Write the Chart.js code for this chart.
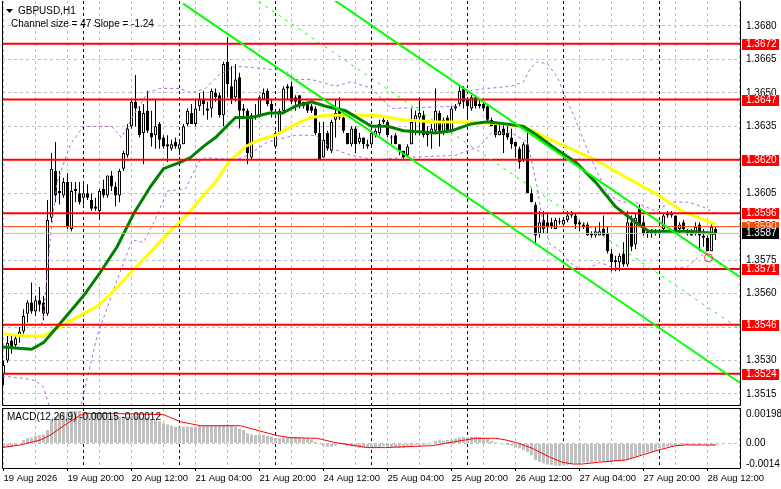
<!DOCTYPE html>
<html lang="en">
<head>
<meta charset="UTF-8">
<title>GBPUSD,H1</title>
<script src="https://cdn.jsdelivr.net/npm/chart.js"></script>
<style>
  html, body { margin: 0; padding: 0; background: #fff; }
  #wrap { position: relative; width: 781px; height: 489px; overflow: hidden; background: #fff; }
  #mainChart { position: absolute; left: 0; top: 0; }
  #macdChart { position: absolute; left: 0; top: 406px; }
</style>
</head>
<body>
<div id="wrap">
  <canvas id="mainChart" width="781" height="406"></canvas>
  <canvas id="macdChart" width="781" height="83"></canvas>
</div>

<script>
// ---- data (one H1 bar per index) ----
const opens = [
  1.3524,1.3530,1.3539,1.3537,1.3541,1.3543,1.3551,1.3556,1.3552,1.3557,
  1.3556,1.3551,1.3594,1.3615,1.3606,1.3604,1.3610,1.3589,1.3607,1.3605,
  1.3603,1.3605,1.3602,1.3599,1.3597,1.3607,1.3604,1.3613,1.3608,1.3604,
  1.3616,1.3622,1.3635,1.3646,1.3642,1.3632,1.3642,1.3632,1.3631,1.3636,
  1.3630,1.3627,1.3625,1.3628,1.3625,1.3627,1.3636,1.3641,1.3636,1.3644,
  1.3647,1.3643,1.3643,1.3650,1.3649,1.3640,1.3664,1.3653,1.3648,1.3657,
  1.3643,1.3642,1.3621,1.3640,1.3640,1.3647,1.3651,1.3645,1.3626,1.3632,
  1.3642,1.3653,1.3653,1.3648,1.3649,1.3644,1.3645,1.3644,1.3643,1.3632,
  1.3621,1.3632,1.3624,1.3638,1.3642,1.3639,1.3632,1.3627,1.3634,1.3628,
  1.3630,1.3626,1.3627,1.3631,1.3632,1.3637,1.3637,1.3630,1.3631,1.3627,
  1.3624,1.3622,1.3627,1.3638,1.3639,1.3640,1.3632,1.3632,1.3633,1.3641,
  1.3632,1.3639,1.3633,1.3643,1.3645,1.3652,1.3647,1.3643,1.3648,1.3645,
  1.3645,1.3644,1.3638,1.3636,1.3631,1.3634,1.3632,1.3630,1.3628,1.3625,
  1.3620,1.3627,1.3605,1.3600,1.3587,1.3593,1.3592,1.3592,1.3589,1.3592,
  1.3591,1.3593,1.3596,1.3595,1.3592,1.3591,1.3591,1.3587,1.3586,1.3586,
  1.3589,1.3587,1.3578,1.3575,1.3574,1.3578,1.3573,1.3592,1.3582,1.3598,
  1.3592,1.3588,1.3588,1.3588,1.3587,1.3589,1.3596,1.3595,1.3595,1.3589,
  1.3592,1.3588,1.3588,1.3587,1.3591,1.3586,1.3585,1.3579,1.3589
];
const highs = [
  1.3530,1.3541,1.3541,1.3541,1.3545,1.3553,1.3557,1.3565,1.3559,1.3563,
  1.3559,1.3602,1.3623,1.3628,1.3615,1.3612,1.3614,1.3610,1.3610,1.3610,
  1.3609,1.3609,1.3605,1.3603,1.3607,1.3611,1.3613,1.3615,1.3610,1.3616,
  1.3624,1.3636,1.3647,1.3658,1.3644,1.3645,1.3651,1.3642,1.3647,1.3637,
  1.3631,1.3631,1.3629,1.3630,1.3628,1.3636,1.3643,1.3645,1.3647,1.3650,
  1.3651,1.3646,1.3652,1.3652,1.3650,1.3664,1.3675,1.3662,1.3663,1.3659,
  1.3645,1.3643,1.3641,1.3645,1.3649,1.3652,1.3652,1.3647,1.3633,1.3643,
  1.3653,1.3654,1.3655,1.3649,1.3649,1.3646,1.3646,1.3645,1.3644,1.3637,
  1.3637,1.3633,1.3638,1.3647,1.3648,1.3640,1.3632,1.3635,1.3635,1.3632,
  1.3630,1.3629,1.3633,1.3634,1.3638,1.3639,1.3638,1.3631,1.3632,1.3627,
  1.3624,1.3627,1.3643,1.3642,1.3648,1.3642,1.3635,1.3636,1.3652,1.3642,
  1.3639,1.3640,1.3644,1.3645,1.3653,1.3653,1.3648,1.3649,1.3649,1.3647,
  1.3646,1.3645,1.3639,1.3637,1.3636,1.3636,1.3635,1.3634,1.3628,1.3626,
  1.3628,1.3634,1.3607,1.3601,1.3597,1.3597,1.3596,1.3594,1.3594,1.3594,
  1.3594,1.3597,1.3597,1.3596,1.3593,1.3592,1.3592,1.3588,1.3590,1.3592,
  1.3595,1.3590,1.3580,1.3577,1.3578,1.3583,1.3597,1.3595,1.3596,1.3600,
  1.3595,1.3589,1.3589,1.3589,1.3589,1.3596,1.3597,1.3597,1.3595,1.3592,
  1.3593,1.3589,1.3589,1.3592,1.3592,1.3589,1.3586,1.3591,1.3590
];
const lows = [
  1.3519,1.3529,1.3533,1.3536,1.3538,1.3542,1.3547,1.3551,1.3550,1.3552,
  1.3548,1.3550,1.3592,1.3601,1.3600,1.3603,1.3589,1.3588,1.3601,1.3600,
  1.3600,1.3602,1.3597,1.3597,1.3593,1.3603,1.3603,1.3606,1.3599,1.3601,
  1.3615,1.3621,1.3634,1.3635,1.3630,1.3618,1.3632,1.3626,1.3625,1.3625,
  1.3625,1.3619,1.3624,1.3625,1.3622,1.3627,1.3635,1.3636,1.3635,1.3642,
  1.3640,1.3638,1.3639,1.3646,1.3639,1.3635,1.3648,1.3645,1.3646,1.3634,
  1.3639,1.3618,1.3620,1.3638,1.3639,1.3647,1.3644,1.3639,1.3625,1.3632,
  1.3641,1.3647,1.3645,1.3642,1.3643,1.3643,1.3641,1.3641,1.3631,1.3620,
  1.3621,1.3624,1.3623,1.3630,1.3638,1.3632,1.3627,1.3626,1.3623,1.3627,
  1.3625,1.3625,1.3626,1.3630,1.3631,1.3636,1.3630,1.3627,1.3627,1.3622,
  1.3620,1.3621,1.3627,1.3631,1.3631,1.3630,1.3626,1.3625,1.3632,1.3626,
  1.3631,1.3632,1.3632,1.3642,1.3644,1.3643,1.3638,1.3642,1.3643,1.3643,
  1.3642,1.3637,1.3635,1.3630,1.3631,1.3623,1.3629,1.3625,1.3621,1.3616,
  1.3619,1.3605,1.3601,1.3582,1.3585,1.3587,1.3587,1.3589,1.3589,1.3591,
  1.3590,1.3592,1.3594,1.3589,1.3588,1.3589,1.3586,1.3585,1.3585,1.3586,
  1.3586,1.3578,1.3570,1.3570,1.3570,1.3572,1.3572,1.3579,1.3580,1.3590,
  1.3586,1.3585,1.3585,1.3586,1.3585,1.3588,1.3594,1.3594,1.3587,1.3587,
  1.3588,1.3586,1.3586,1.3586,1.3579,1.3581,1.3579,1.3579,1.3584
];
const closes = [
  1.3528,1.3538,1.3535,1.3540,1.3543,1.3550,1.3556,1.3552,1.3557,1.3555,
  1.3551,1.3593,1.3616,1.3604,1.3605,1.3610,1.3590,1.3606,1.3606,1.3601,
  1.3605,1.3603,1.3598,1.3598,1.3606,1.3604,1.3613,1.3608,1.3604,1.3615,
  1.3623,1.3634,1.3646,1.3643,1.3631,1.3641,1.3633,1.3630,1.3635,1.3629,
  1.3626,1.3626,1.3627,1.3626,1.3627,1.3635,1.3642,1.3636,1.3643,1.3647,
  1.3645,1.3642,1.3651,1.3648,1.3640,1.3663,1.3654,1.3647,1.3656,1.3642,
  1.3642,1.3623,1.3640,1.3639,1.3648,1.3650,1.3645,1.3642,1.3632,1.3642,
  1.3652,1.3652,1.3646,1.3646,1.3644,1.3646,1.3642,1.3642,1.3632,1.3620,
  1.3629,1.3625,1.3637,1.3641,1.3639,1.3633,1.3627,1.3634,1.3627,1.3630,
  1.3627,1.3627,1.3632,1.3633,1.3636,1.3638,1.3631,1.3630,1.3627,1.3624,
  1.3621,1.3626,1.3637,1.3640,1.3641,1.3631,1.3631,1.3634,1.3642,1.3633,
  1.3638,1.3633,1.3643,1.3644,1.3651,1.3646,1.3644,1.3648,1.3644,1.3644,
  1.3643,1.3638,1.3635,1.3631,1.3633,1.3631,1.3630,1.3627,1.3626,1.3619,
  1.3627,1.3605,1.3601,1.3586,1.3592,1.3589,1.3590,1.3590,1.3593,1.3592,
  1.3593,1.3595,1.3595,1.3591,1.3591,1.3590,1.3586,1.3586,1.3588,1.3588,
  1.3586,1.3579,1.3574,1.3574,1.3577,1.3573,1.3592,1.3581,1.3594,1.3591,
  1.3587,1.3587,1.3587,1.3587,1.3588,1.3595,1.3595,1.3596,1.3588,1.3591,
  1.3589,1.3587,1.3586,1.3590,1.3586,1.3585,1.3579,1.3590,1.3587
];

// moving averages and envelope, [bar, price]
const maYellow = [
  [-0.4,1.3542],[5,1.3541],[10,1.3541],[13,1.3544],[16,1.3547],[20,1.3551],[24,1.3555],
  [28,1.3562],[32.6,1.3571],[37,1.3579],[41,1.3587],[44,1.3592],[46.7,1.3597],[50,1.3604],
  [53,1.3610],[56.3,1.3619],[60.5,1.3626],[64,1.3629],[68,1.3631],[73,1.3636],[77,1.3639],
  [80.5,1.3640],[93,1.3640],[100,1.3638],[108,1.3637],[117,1.3637],[125,1.3636],[130,1.3635],
  [133.4,1.3632],[138,1.3628],[143,1.3624],[148,1.3620],[154.7,1.3613],[163,1.3605],
  [169.7,1.3597],[174,1.3594],[178,1.3591]
];
const maGreen = [
  [-0.4,1.3536],[7,1.3535],[10,1.3538],[13.4,1.3545],[20,1.3559],[24,1.3569],[28.4,1.3581],
  [32.6,1.3596],[36.75,1.3608],[40,1.3616],[44.25,1.3619],[46.75,1.3621],[50,1.3626],
  [53,1.3630],[58,1.3639],[62,1.3639],[66.5,1.3641],[69.8,1.3641],[73,1.3644],[77,1.3646],
  [80.5,1.3644],[85.5,1.3642],[92,1.3635],[96,1.3635],[100,1.3633],[108,1.3632],[112,1.3633],
  [116.75,1.3636],[121,1.3637],[126,1.3636],[130,1.3635],[133.4,1.3631],[138,1.3625],
  [143,1.3619],[148,1.3610],[153,1.3599],[158,1.3592],[161.3,1.3588],[171.3,1.3588],[178,1.3587]
];
const bandUpper = [
  [9.5,1.3546],[10,1.3550],[11.75,1.3586],[13.4,1.3610],[16.75,1.3627],[20,1.3635],[27,1.3635],
  [29.5,1.3630],[32.5,1.3640],[36,1.3650],[39,1.3652],[44,1.3652],[47,1.3650],[50.5,1.3652],
  [53.8,1.3658],[58,1.3662],[70.5,1.3660],[73,1.3656],[77,1.3656],[83,1.3653],[87,1.3655],
  [92,1.3652],[97,1.3643],[113,1.3644],[116.75,1.3651],[121,1.3652],[127,1.3653],[130,1.3655],
  [131.75,1.3661],[133.4,1.3664],[136,1.3663],[138.5,1.3657],[140.5,1.3648],[143,1.3638],
  [146.3,1.3623],[148.8,1.3613],[151.3,1.3604],[154.7,1.3601],[158,1.3601],[160.5,1.3599],
  [163,1.3597],[167,1.3601],[171.3,1.3601],[174.7,1.3599],[177,1.3597],[178,1.3596]
];
const bandLower = [
  [-0.4,1.3523],[5,1.3522],[8,1.3521],[10,1.3518],[11.5,1.3509],[15,1.3495],[19.25,1.3509],
  [23.4,1.3541],[28.4,1.3566],[32.2,1.3584],[35,1.3583],[37.6,1.3592],[41,1.3606],[45.5,1.3607],
  [48.8,1.3619],[50.5,1.3621],[58,1.3620],[61,1.3622],[66,1.3628],[73,1.3631],[78,1.3631],
  [82,1.3625],[87,1.3622],[93,1.3620],[100,1.3621],[113,1.3622],[119,1.3626],[122,1.3632],
  [127,1.3632],[131,1.3628],[133.4,1.3608],[135,1.3590],[136.75,1.3582],[139.25,1.3579],
  [141,1.3575],[143,1.3572],[146,1.3571],[149,1.3574],[152,1.3572],[155,1.3571],[165,1.3571],
  [171,1.3572],[173.5,1.3576],[176,1.3579],[178,1.3582]
];

// equidistant channel: two end points per line
const channelLower = [[44.9,1.3690],[184.1,1.3520]];
const channelUpper = [[82.4,1.3692],[184.1,1.35675]];
const channelMid = [[63.8,1.3691],[184.1,1.3544]];
const markerPoint = [[176.25,1.3576]];

const redLevels = [1.3672, 1.3647, 1.3620, 1.3596, 1.3571, 1.3546, 1.3524];
const askPrice = 1.3590;
const bidPrice = 1.3587;
const priceTicks = [1.3515,1.3530,1.3545,1.3560,1.3575,1.3590,1.3605,1.3620,1.3635,1.3650,1.3665,1.3680];

const macdHist = [
  -0.00025,-0.00022,-0.00020,-0.00012,-0.00005,0.00023,0.00034,0.00038,0.00050,0.00056,
  0.00060,0.00090,0.00160,0.00180,0.00196,0.00210,0.00214,0.00220,0.00220,0.00220,
  0.00214,0.00210,0.00200,0.00200,0.00200,0.00196,0.00196,0.00190,0.00187,0.00180,
  0.00180,0.00180,0.00185,0.00190,0.00180,0.00173,0.00173,0.00165,0.00158,0.00150,
  0.00135,0.00128,0.00120,0.00113,0.00113,0.00113,0.00113,0.00113,0.00113,0.00120,
  0.00120,0.00120,0.00120,0.00120,0.00120,0.00124,0.00128,0.00124,0.00113,0.00100,
  0.00090,0.00068,0.00060,0.00056,0.00056,0.00056,0.00050,0.00045,0.00034,0.00034,
  0.00038,0.00038,0.00043,0.00043,0.00038,0.00038,0.00034,0.00027,0.00011,-0.00007,
  -0.00016,-0.00023,-0.00023,-0.00016,-0.00007,-0.00011,-0.00016,-0.00023,-0.00023,-0.00029,
  -0.00029,-0.00029,-0.00030,-0.00027,-0.00025,-0.00020,-0.00022,-0.00025,-0.00027,-0.00030,
  -0.00030,-0.00025,-0.00015,-0.00010,-0.00008,-0.00010,-0.00008,0.00005,0.00016,0.00020,
  0.00018,0.00022,0.00025,0.00032,0.00038,0.00043,0.00040,0.00043,0.00045,0.00043,
  0.00038,0.00030,0.00016,0.00007,0.00005,-0.00007,-0.00012,-0.00016,-0.00029,-0.00034,
  -0.00045,-0.00060,-0.00080,-0.00113,-0.00125,-0.00135,-0.00140,-0.00146,-0.00150,-0.00153,
  -0.00150,-0.00146,-0.00140,-0.00135,-0.00135,-0.00130,-0.00130,-0.00128,-0.00124,-0.00124,
  -0.00124,-0.00124,-0.00124,-0.00120,-0.00118,-0.00113,-0.00110,-0.00101,-0.00090,-0.00080,
  -0.00070,-0.00062,-0.00056,-0.00050,-0.00034,-0.00029,-0.00023,-0.00020,-0.00016,-0.00016,
  -0.00014,-0.00011,-0.00011,-0.00009,-0.00009,-0.00007,-0.00010,-0.00011,-0.00015
];
const macdSignal = [
  [-0.4,-0.00029],[4.25,-0.00011],[9.25,0.00023],[11.75,0.00056],[15.9,0.00135],[19.25,0.00191],
  [21,0.00203],[33,0.00199],[40,0.00194],[44.25,0.00146],[49.25,0.00119],[59.25,0.00119],
  [68.4,0.00052],[71.75,0.00038],[78.4,0.00034],[82.6,0.00007],[91,-0.00029],[95.5,-0.00029],
  [103,-0.00020],[107.2,-0.00016],[110.5,0],[115.5,0.00023],[118,0.00034],[123,0.00034],
  [125.5,0.00023],[128.8,0],[132.2,-0.00034],[136.3,-0.00090],[139.7,-0.00128],[142.2,-0.00140],
  [144.7,-0.00140],[148.8,-0.00128],[155.5,-0.00113],[159.7,-0.00079],[163.8,-0.00045],
  [168,-0.00016],[170.5,-0.00011],[178,-0.00012]
];
const macdTickVals = [0.00198, 0, -0.0014];
const macdTickText = ['0.00198', '0.00', '-0.0014'];

const timeLabels = ['19 Aug 2026','19 Aug 20:00','20 Aug 12:00','21 Aug 04:00','21 Aug 20:00',
  '24 Aug 12:00','25 Aug 04:00','25 Aug 20:00','26 Aug 12:00','27 Aug 04:00','27 Aug 20:00','28 Aug 12:00'];
const daySeparators = [20, 44, 68, 92, 116, 140, 164];
const gridBars = [];
for (let b = 0; b <= 184; b += 8) gridBars.push(b);

// ---- chart setup ----
const X_MIN = -0.375, X_MAX = 184.125;
const Y_MIN = 1.351004, Y_MAX = 1.369121;
const FONT = '"Liberation Sans", Arial, sans-serif';
const FS = 10;

Chart.defaults.font.family = FONT;
Chart.defaults.font.size = FS;
Chart.defaults.color = '#000';

const idx = opens.map((o, i) => i);
const pts = arr => arr.map(p => ({x: p[0], y: p[1]}));
const flat = v => [{x: X_MIN, y: v}, {x: X_MAX, y: v}];

function lineSet(data, color, width, extra) {
    return Object.assign({
        type: 'line', data: data, borderColor: color, borderWidth: width,
        pointRadius: 0, tension: 0, fill: false, clip: 0
    }, extra || {});
}

function dashedVLines(chart, bars, color) {
    const {ctx, chartArea: a, scales: {x}} = chart;
    ctx.save();
    ctx.strokeStyle = color;
    ctx.lineWidth = 1;
    ctx.setLineDash([3, 3]);
    bars.forEach(b => {
        const px = x.getPixelForValue(b);
        ctx.beginPath();
        ctx.moveTo(px, a.top);
        ctx.lineTo(px, a.bottom);
        ctx.stroke();
    });
    ctx.restore();
}

function frame(ctx, a) {
    ctx.save();
    ctx.strokeStyle = '#000';
    ctx.lineWidth = 1;
    ctx.beginPath();
    ctx.moveTo(a.left + 0.5, a.top);
    ctx.lineTo(a.left + 0.5, a.bottom + 0.5);
    ctx.lineTo(a.right + 0.5, a.bottom + 0.5);
    ctx.lineTo(a.right + 0.5, a.top);
    ctx.stroke();
    ctx.restore();
}

function priceBox(ctx, y, value, bg, fg) {
    ctx.fillStyle = bg;
    ctx.fillRect(742, Math.round(y) - 5, 37, 11);
    ctx.fillStyle = fg;
    ctx.textBaseline = 'middle';
    ctx.textAlign = 'left';
    ctx.fillText(value.toFixed(4), 746, Math.round(y) + 0.5);
}

const mainDecor = {
    id: 'mainDecor',
    beforeDatasetsDraw(chart) {
        dashedVLines(chart, daySeparators, '#000');
    },
    afterDraw(chart) {
        const {ctx, chartArea: a, scales: {y}} = chart;
        frame(ctx, a);
        ctx.save();
        ctx.font = FS + 'px ' + FONT;
        redLevels.forEach(v => priceBox(ctx, y.getPixelForValue(v), v, '#ff0000', '#fff'));
        priceBox(ctx, y.getPixelForValue(askPrice), askPrice, '#ff4500', '#ffe0c8');
        priceBox(ctx, y.getPixelForValue(bidPrice), bidPrice, '#000', '#fff');

        // window caption
        ctx.fillStyle = '#000';
        ctx.beginPath();
        ctx.moveTo(6, 9);
        ctx.lineTo(13, 9);
        ctx.lineTo(9.5, 13);
        ctx.closePath();
        ctx.fill();
        ctx.textBaseline = 'middle';
        ctx.fillText('GBPUSD,H1', 18, 11);
        ctx.fillText('Channel size = 47 Slope = -1.24', 11, 24);
        ctx.restore();
    }
};

new Chart(document.getElementById('mainChart'), {
    type: 'bar',
    data: {
        datasets: [
            {
                type: 'bar', data: idx.map(i => ({x: i, y: [lows[i], highs[i]]})),
                backgroundColor: '#000', borderWidth: 0, barThickness: 1,
                grouped: false, inflateAmount: 0, order: 20
            },
            {
                type: 'bar', data: idx.map(i => ({x: i, y: [opens[i], closes[i]]})),
                backgroundColor: idx.map(i => closes[i] > opens[i] ? '#fff' : '#000'),
                borderColor: '#000', borderWidth: 1, borderSkipped: false,
                barThickness: 3, minBarLength: 1, grouped: false, inflateAmount: 0, order: 19
            },
            lineSet(pts(bandUpper), '#b368e0', 1, {borderDash: [3, 3], order: 15}),
            lineSet(pts(bandLower), '#b368e0', 1, {borderDash: [3, 3], order: 15}),
            lineSet(pts(maYellow), '#ffff00', 3, {order: 14}),
            lineSet(pts(maGreen), '#008000', 3, {order: 13}),
            lineSet(flat(bidPrice), '#c0c0c0', 1, {order: 12}),
            lineSet(flat(askPrice), '#ff4500', 1, {order: 12}),
            ...redLevels.map(v => lineSet(flat(v), '#ff0000', 2, {order: 10})),
            lineSet(pts(channelMid), '#00ff00', 1, {borderDash: [3, 5], order: 5}),
            lineSet(pts(channelLower), '#00ff00', 2, {order: 4}),
            lineSet(pts(channelUpper), '#00ff00', 2, {order: 4}),
            lineSet(pts(markerPoint), '#ff0000', 1, {
                showLine: false, pointRadius: 4, pointStyle: 'circle',
                pointBorderColor: '#ff3030', pointBackgroundColor: 'rgba(0,0,0,0)',
                pointBorderWidth: 1, order: 1
            })
        ]
    },
    options: {
        responsive: false, animation: false, events: [], devicePixelRatio: 1,
        layout: {autoPadding: false, padding: {left: 2, top: 1, right: 0, bottom: 1}},
        plugins: {legend: {display: false}, tooltip: {enabled: false}},
        scales: {
            x: {
                type: 'linear', min: X_MIN, max: X_MAX, offset: false,
                grid: {offset: false, color: '#c0c0c0', drawTicks: false},
                border: {display: false, dash: [3, 3]},
                ticks: {display: false},
                afterBuildTicks: s => { s.ticks = gridBars.map(v => ({value: v})); },
                afterFit: s => { s.height = 0; s.paddingLeft = 0; s.paddingRight = 0; }
            },
            y: {
                type: 'linear', position: 'right', min: Y_MIN, max: Y_MAX,
                grid: {color: '#c0c0c0', drawTicks: false},
                border: {display: false, dash: [3, 3]},
                ticks: {padding: 6, color: '#000', callback: v => v.toFixed(4)},
                afterBuildTicks: s => { s.ticks = priceTicks.map(v => ({value: v})); },
                afterFit: s => { s.width = 41; s.paddingTop = 0; s.paddingBottom = 0; }
            }
        }
    },
    plugins: [mainDecor]
});

const macdDecor = {
    id: 'macdDecor',
    beforeDatasetsDraw(chart) {
        dashedVLines(chart, daySeparators, '#000');
    },
    afterDraw(chart) {
        const {ctx, chartArea: a} = chart;
        frame(ctx, a);
        ctx.save();
        ctx.strokeStyle = '#000';
        ctx.beginPath();
        ctx.moveTo(a.left, a.top + 0.5);
        ctx.lineTo(a.right, a.top + 0.5);
        ctx.stroke();
        ctx.font = FS + 'px ' + FONT;
        ctx.fillStyle = '#000';
        ctx.textBaseline = 'middle';
        ctx.fillText('MACD(12,26,9) -0.00015 -0.00012', 7, 11);
        ctx.restore();
    }
};

new Chart(document.getElementById('macdChart'), {
    type: 'bar',
    data: {
        datasets: [
            {
                type: 'bar', data: idx.map(i => ({x: i, y: macdHist[i]})),
                backgroundColor: '#c0c0c0', borderWidth: 0, barThickness: 3,
                grouped: false, inflateAmount: 0, order: 5
            },
            lineSet(pts(macdSignal), '#ff0000', 1, {order: 1})
        ]
    },
    options: {
        responsive: false, animation: false, events: [], devicePixelRatio: 1,
        layout: {autoPadding: false, padding: {left: 2, top: 2, right: 0, bottom: 0}},
        plugins: {legend: {display: false}, tooltip: {enabled: false}},
        scales: {
            x: {
                type: 'linear', min: X_MIN, max: X_MAX, offset: false,
                grid: {
                    offset: false, color: '#c0c0c0', drawTicks: true, tickLength: 3,
                    tickColor: c => (c.tick && c.tick.value % 16 === 0 && c.tick.value / 16 < timeLabels.length) ? '#000' : 'rgba(0,0,0,0)'
                },
                border: {display: false, dash: [3, 3]},
                ticks: {
                    autoSkip: false, maxRotation: 0, minRotation: 0, align: 'start', padding: 2, color: '#000',
                    font: {size: 9.5},
                    callback: v => (v % 16 === 0 && v / 16 < timeLabels.length) ? timeLabels[v / 16] : ''
                },
                afterBuildTicks: s => { s.ticks = gridBars.map(v => ({value: v})); },
                afterFit: s => { s.height = 21; s.paddingLeft = 0; s.paddingRight = 0; }
            },
            y: {
                type: 'linear', position: 'right', min: -0.00167, max: 0.00239,
                grid: {color: c => (c.tick && c.tick.value === 0) ? '#c0c0c0' : 'rgba(0,0,0,0)', drawTicks: false},
                border: {display: false, dash: [3, 3]},
                ticks: {padding: 6, color: '#000', callback: v => macdTickText[macdTickVals.indexOf(v)]},
                afterBuildTicks: s => { s.ticks = macdTickVals.map(v => ({value: v})); },
                afterFit: s => { s.width = 41; s.paddingTop = 0; s.paddingBottom = 0; }
            }
        }
    },
    plugins: [macdDecor]
});
</script>
</body>
</html>
